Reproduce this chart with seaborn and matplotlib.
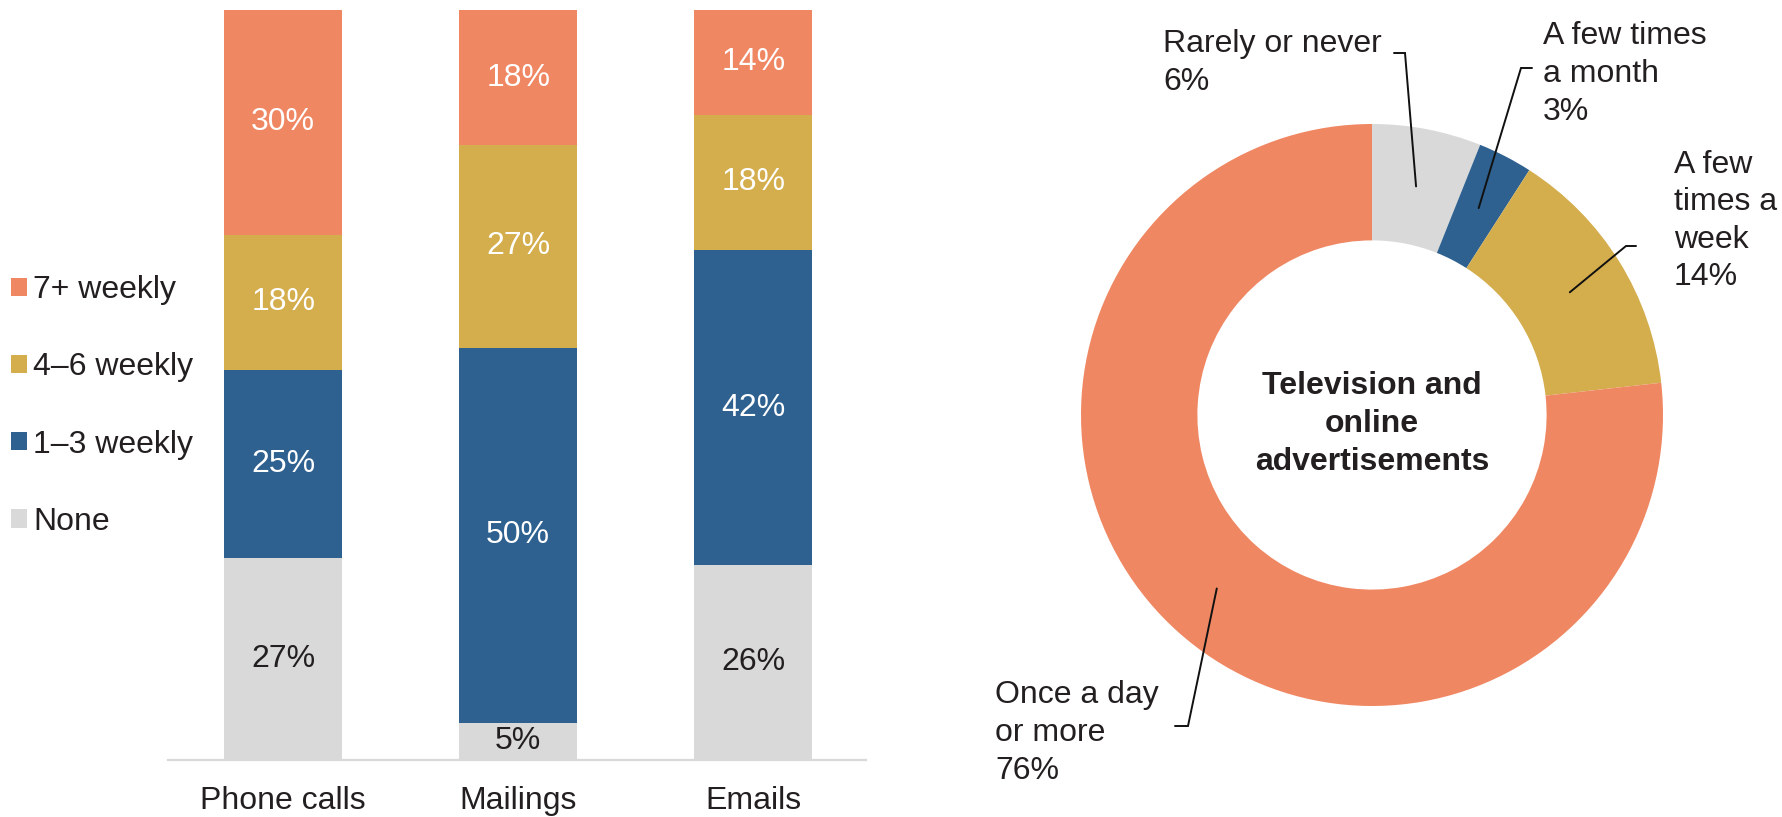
import numpy as np
import pandas as pd
import matplotlib
matplotlib.use("Agg")
import matplotlib.pyplot as plt
from matplotlib.patches import Patch
import seaborn as sns

# Weekly contact frequency by channel (percent of respondents)
channels = ["Phone calls", "Mailings", "Emails"]
freq_levels = ["None", "1–3 weekly", "4–6 weekly", "7+ weekly"]
none_pct = [27, 5, 26]
weekly_1_3 = [25, 50, 42]
weekly_4_6 = [18, 27, 18]
weekly_7_plus = [30, 18, 14]

# Exposure to television and online advertisements (percent)
ad_freq = ["Rarely or never", "A few times\na month", "A few\ntimes a\nweek", "Once a day\nor more"]
ad_pct = [6, 3, 14, 76]
donut_title = "Television and\nonline\nadvertisements"

ORANGE = "#F08763"
GOLD = "#D4AD4C"
BLUE = "#2E618F"
GRAY = "#D9D9D9"
INK = "#231F20"
level_colors = [GRAY, BLUE, GOLD, ORANGE]
ad_colors = [GRAY, BLUE, GOLD, ORANGE]

sns.set_theme(style="white")
plt.rcParams["font.family"] = ["Liberation Sans", "DejaVu Sans"]
FS = 23
LS = 1.33

W, H = 1783, 817
fig = plt.figure(figsize=(W / 100, H / 100), dpi=100)

# ---- stacked bars ----
ax1 = fig.add_axes([168 / W, (H - 760) / H, (866 - 168) / W, (760 - 10) / H])

layers = [none_pct, weekly_1_3, weekly_4_6, weekly_7_plus]
df = pd.DataFrame({"channel": channels})
for name, vals in zip(freq_levels, layers):
    df[name] = vals
cum = df[freq_levels].cumsum(axis=1)

# draw cumulative totals from the top layer down so each overlays the one above
for name, col in reversed(list(zip(freq_levels, level_colors))):
    sns.barplot(data=pd.DataFrame({"channel": channels, "top": cum[name]}),
                x="channel", y="top", order=channels, color=col,
                saturation=1, width=0.5, errorbar=None, ax=ax1, linewidth=0)

for i in range(len(channels)):
    bottom = 0
    for name, col in zip(freq_levels, level_colors):
        v = df.loc[i, name]
        ax1.text(i, bottom + v / 2, f"{v}%", ha="center", va="center",
                 fontsize=FS, color=INK if col == GRAY else "white")
        bottom += v

ax1.set_xlim(-0.49, 2.48)
ax1.set_ylim(0, 100)
ax1.set_xlabel("")
ax1.set_ylabel("")
ax1.set_yticks([])
for s in ["top", "left", "right"]:
    ax1.spines[s].set_visible(False)
ax1.spines["bottom"].set_color(GRAY)
ax1.spines["bottom"].set_linewidth(1.6)
ax1.tick_params(axis="x", length=0, pad=19, labelsize=FS, labelcolor=INK)

handles = [Patch(facecolor=c, edgecolor="none") for c in reversed(level_colors)]
fig.legend(handles, list(reversed(freq_levels)), loc="center left",
           bbox_to_anchor=(11 / W, (H - 406) / H), bbox_transform=fig.transFigure,
           frameon=False, fontsize=FS, handlelength=0.5, handleheight=0.5,
           handletextpad=0.2, labelspacing=1.48, borderpad=0, borderaxespad=0,
           labelcolor=INK)

# ---- donut ----
R_PX = 291
half = 400
ax2 = fig.add_axes([(1372 - half) / W, (H - 415 - half) / H, 2 * half / W, 2 * half / H])
wedges, _ = ax2.pie(ad_pct, colors=ad_colors, startangle=90, counterclock=False,
                    radius=1, wedgeprops=dict(width=0.4, linewidth=0))
lim = half / R_PX
ax2.set_xlim(-lim, lim)
ax2.set_ylim(-lim, lim)
ax2.set_aspect("equal")
ax2.axis("off")


def px(x, y):
    return ((x - 1372) / R_PX, (415 - y) / R_PX)


ax2.text(*px(1372, 424), donut_title, ha="center", va="center", fontsize=FS,
         fontweight="bold", color=INK, linespacing=LS)

# label text position, elbow point, tick end (pixel layout of the panel)
label_layout = [
    ((1163, 63), (1405, 53), (1394, 53)),
    ((1543, 74), (1521, 68), (1532, 68)),
    ((1674, 221), (1626, 246), (1636, 246)),
    ((995, 733), (1188, 726), (1175, 726)),
]
mid_r = 0.8
for w, lab, pct, (tpos, elbow, tick) in zip(wedges, ad_freq, ad_pct, label_layout):
    ang = np.deg2rad((w.theta1 + w.theta2) / 2)
    anchor = (mid_r * np.cos(ang), mid_r * np.sin(ang))
    e = px(*elbow)
    t = px(*tick)
    ax2.plot([anchor[0], e[0], t[0]], [anchor[1], e[1], t[1]],
             color="#111111", lw=1.4, solid_joinstyle="miter", clip_on=False)
    tx, ty = px(*tpos)
    ax2.text(tx, ty, f"{lab}\n{pct}%", ha="left", va="center", fontsize=FS,
             color=INK, linespacing=LS, clip_on=False)

fig.savefig("out.png", dpi=100)
